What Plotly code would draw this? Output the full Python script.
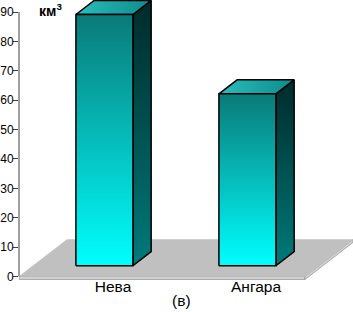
import plotly.graph_objects as go

# ---- data ----
categories = ["Нева", "Ангара"]
values = [85.5, 58.5]
tick_values = [0, 10, 20, 30, 40, 50, 60, 70, 80, 90]
unit_label = "<b>км<sup>3</sup></b>"
caption = "(в)"

# ---- geometry / style (not data) ----
PX_PER_Y = 264.5 / 90.0
PX_PER_X = 143.0
DEPTH_DX = 48 / PX_PER_X
DEPTH_DY = 37 / PX_PER_Y
BAR_W = 57 / PX_PER_X
BAR_FRONT = 0.29
BAR_DEPTH = 0.38
X0, X1 = -0.5, len(categories) - 0.5
FONT = "Arial, Liberation Sans, sans-serif"

fig = go.Figure()


def poly(xs, ys, fill=None, grad=None, line_color="black", line_w=1.5):
    kw = dict(x=xs + [xs[0]], y=ys + [ys[0]], mode="lines", fill="toself",
              line=dict(color=line_color, width=line_w), hoverinfo="skip",
              showlegend=False, cliponaxis=False)
    if grad is not None:
        kw["fillgradient"] = grad
    else:
        kw["fillcolor"] = fill
    fig.add_trace(go.Scatter(**kw))


# floor thickness (front + right side)
band = 1.0
poly([X0, X1, X1, X0], [-band, -band, 0, 0], fill="#d2d2d2", line_color="#9a9a9a", line_w=0.8)
poly([X1, X1 + DEPTH_DX, X1 + DEPTH_DX, X1], [-band, DEPTH_DY - band, DEPTH_DY, 0],
     fill="#d2d2d2", line_color="#9a9a9a", line_w=0.8)
# floor top
poly([X0, X1, X1 + DEPTH_DX, X0 + DEPTH_DX], [0, 0, DEPTH_DY, DEPTH_DY],
     fill="#c0c0c0", line_color="#c0c0c0", line_w=0.5)

# bars
fdx, fdy = BAR_FRONT * DEPTH_DX, BAR_FRONT * DEPTH_DY
bdx, bdy = BAR_DEPTH * DEPTH_DX, BAR_DEPTH * DEPTH_DY
for i, v in enumerate(values):
    x0 = i + fdx - BAR_W / 2
    x1 = x0 + BAR_W
    y0 = fdy
    y1 = fdy + v
    # side face
    poly([x1, x1 + bdx, x1 + bdx, x1], [y0, y0 + bdy, y1 + bdy, y1],
         grad=dict(type="vertical", colorscale=[[0, "#007a7a"], [1, "#002a2a"]]))
    # top face
    poly([x0, x1, x1 + bdx, x0 + bdx], [y1, y1, y1 + bdy, y1 + bdy],
         grad=dict(type="horizontal", colorscale=[[0, "#2cbcbc"], [1, "#0c8c8c"]]))
    # front face
    poly([x0, x1, x1, x0], [y0, y0, y1, y1],
         grad=dict(type="vertical", colorscale=[[0, "#00ffff"], [1, "#0a7a78"]]))

# y axis line
fig.add_shape(type="line", xref="paper", yref="y", x0=0, x1=0, y0=0, y1=tick_values[-1],
              line=dict(color="#404040", width=1))

plot_h = 280
y_bottom = -(plot_h - 276.5) / PX_PER_Y
y_top = 276.5 / PX_PER_Y
x_right = X0 + (353 - 19) / PX_PER_X

fig.add_annotation(text=unit_label, xref="x", yref="paper",
                   x=X0 + (50 - 19) / PX_PER_X, y=(plot_h - 10) / plot_h,
                   xanchor="center", yanchor="middle",
                   showarrow=False, font=dict(family=FONT, size=14, color="black"))
fig.add_annotation(text=caption, xref="x", yref="paper",
                   x=X0 + (181 - 19) / PX_PER_X, y=(plot_h - 300) / plot_h,
                   xanchor="center", yanchor="middle",
                   showarrow=False, font=dict(family=FONT, size=15.5, color="black"))

fig.update_layout(
    width=353, height=312,
    margin=dict(l=19, r=0, t=0, b=312 - plot_h, autoexpand=False),
    paper_bgcolor="white", plot_bgcolor="white",
    font=dict(family=FONT, color="black"),
    xaxis=dict(range=[X0, x_right], showgrid=False, zeroline=False, showline=False,
               automargin=False, ticklabelstandoff=-5,
               tickvals=[i + 0.47 * DEPTH_DX for i in range(len(categories))],
               ticktext=categories, ticks="", tickfont=dict(size=15.5, family=FONT)),
    yaxis=dict(range=[y_bottom, y_top], showgrid=False, zeroline=False, showline=False,
               automargin=False, ticklabelstandoff=-3,
               tickvals=tick_values, ticks="outside", ticklen=5, tickcolor="#404040",
               tickfont=dict(size=12, family=FONT)),
)

fig.write_html("out.html", config={"displayModeBar": False},
               post_script="document.body.style.margin='0px';document.body.style.overflow='hidden';")
